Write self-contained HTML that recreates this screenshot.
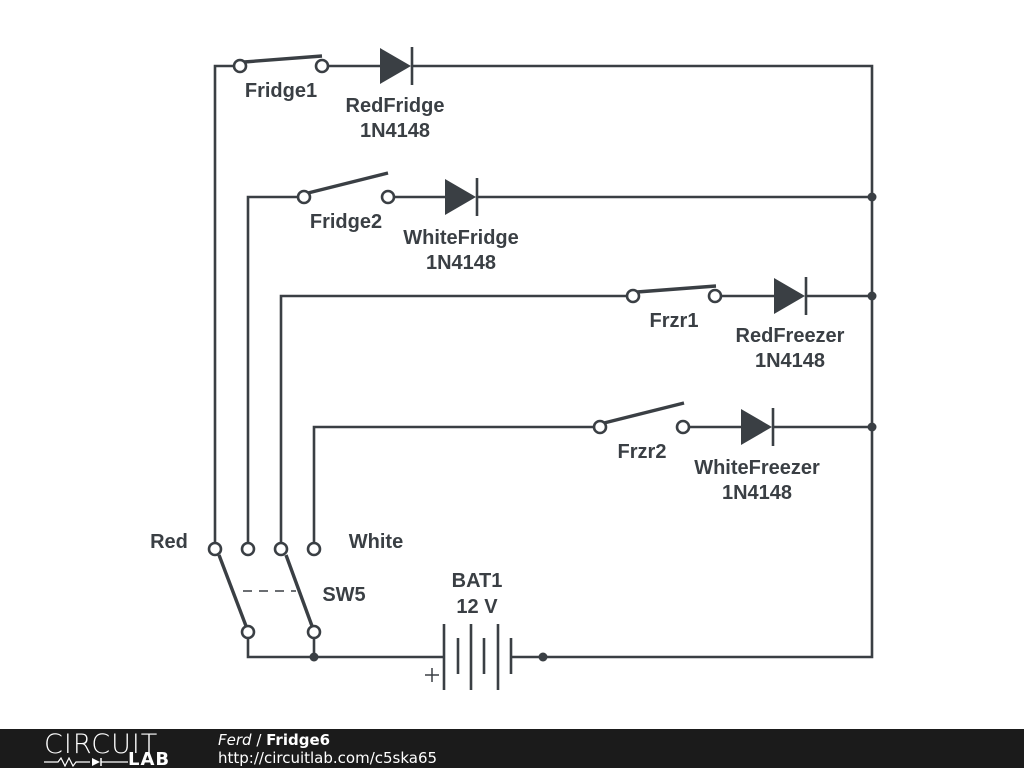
<!DOCTYPE html>
<html><head><meta charset="utf-8"><style>
body{margin:0;width:1024px;height:768px;background:#fff;overflow:hidden;position:relative;font-family:"Liberation Sans",sans-serif}
#foot{position:absolute;left:0;top:729px;width:1024px;height:39px;background:#1b1b1b;color:#fff}
</style></head><body>
<svg width="1024" height="729" style="position:absolute;left:0;top:0">
<g stroke="#3a3f44" stroke-width="2.6" fill="none">
<polyline points="215,543 215,66 234,66"/>
<polyline points="328,66 380,66"/>
<polyline points="412,66 872,66 872,657 511,657"/>
<polyline points="248,543 248,197 298,197"/>
<polyline points="394,197 445,197"/><line x1="477" y1="197" x2="872" y2="197"/>
<polyline points="281,543 281,296 627,296"/>
<polyline points="721,296 774,296"/><line x1="806" y1="296" x2="872" y2="296"/>
<polyline points="314,543 314,427 594,427"/>
<polyline points="689,427 741,427"/><line x1="773" y1="427" x2="872" y2="427"/>
<polyline points="248,638 248,657 444,657"/>
<line x1="314" y1="638" x2="314" y2="657"/>
<line x1="244" y1="62" x2="322" y2="56" stroke-width="3.4"/>
<line x1="308" y1="193" x2="388" y2="173" stroke-width="3.4"/>
<line x1="637" y1="292" x2="716" y2="286" stroke-width="3.4"/>
<line x1="604" y1="423" x2="684" y2="403" stroke-width="3.4"/>
<line x1="219" y1="555" x2="246" y2="626" stroke-width="3.4"/>
<line x1="286" y1="555" x2="312" y2="626" stroke-width="3.4"/>
<line x1="243" y1="591" x2="296" y2="591" stroke-width="1.5" stroke-dasharray="9,7"/>
<g fill="#fff">
<circle cx="240" cy="66" r="6"/><circle cx="322" cy="66" r="6"/>
<circle cx="304" cy="197" r="6"/><circle cx="388" cy="197" r="6"/>
<circle cx="633" cy="296" r="6"/><circle cx="715" cy="296" r="6"/>
<circle cx="600" cy="427" r="6"/><circle cx="683" cy="427" r="6"/>
<circle cx="215" cy="549" r="6"/><circle cx="248" cy="549" r="6"/>
<circle cx="281" cy="549" r="6"/><circle cx="314" cy="549" r="6"/>
<circle cx="248" cy="632" r="6"/><circle cx="314" cy="632" r="6"/>
</g>
<line x1="412" y1="47" x2="412" y2="85"/>
<line x1="477" y1="178" x2="477" y2="216"/>
<line x1="806" y1="277" x2="806" y2="315"/>
<line x1="773" y1="408" x2="773" y2="446"/>
<line x1="444" y1="624" x2="444" y2="690"/><line x1="458" y1="638" x2="458" y2="674"/>
<line x1="471" y1="624" x2="471" y2="690"/><line x1="484" y1="638" x2="484" y2="674"/>
<line x1="498" y1="624" x2="498" y2="690"/><line x1="511" y1="638" x2="511" y2="674"/>
<line x1="425" y1="675" x2="439" y2="675" stroke-width="1.5"/><line x1="432" y1="668" x2="432" y2="682" stroke-width="1.5"/>
</g>
<g fill="#3a3f44">
<polygon points="380,48 411,66 380,84"/>
<polygon points="445,179 476,197 445,215"/>
<polygon points="774,278 805,296 774,314"/>
<polygon points="741,409 772,427 741,445"/>
<circle cx="872" cy="197" r="4.5"/><circle cx="872" cy="296" r="4.5"/><circle cx="872" cy="427" r="4.5"/>
<circle cx="314" cy="657" r="4.5"/><circle cx="543" cy="657" r="4.5"/>
</g>
<g fill="#3a3f44" font-family="Liberation Sans, sans-serif" font-weight="bold" font-size="20" text-anchor="middle">
<text x="281" y="97">Fridge1</text>
<text x="395" y="112">RedFridge</text><text x="395" y="137">1N4148</text>
<text x="346" y="228">Fridge2</text>
<text x="461" y="244">WhiteFridge</text><text x="461" y="269">1N4148</text>
<text x="674" y="327">Frzr1</text>
<text x="790" y="342">RedFreezer</text><text x="790" y="367">1N4148</text>
<text x="642" y="458">Frzr2</text>
<text x="757" y="474">WhiteFreezer</text><text x="757" y="499">1N4148</text>
<text x="169" y="548">Red</text>
<text x="376" y="548">White</text>
<text x="344" y="601">SW5</text>
<text x="477" y="587">BAT1</text><text x="477" y="613">12 V</text>
</g>
</svg>
<div id="foot">
<div style="position:absolute;left:44px;top:0px;font-size:27px;letter-spacing:1px;font-weight:300;color:#fff;font-family:'DejaVu Sans',sans-serif">CIRCUIT</div>
<div style="position:absolute;left:128px;top:20px;font-size:18px;font-weight:bold;letter-spacing:1px;font-family:'DejaVu Sans',sans-serif">LAB</div>
<svg style="position:absolute;left:44px;top:28px" width="84" height="10"><polyline points="0,5 14,5 17,1 21,9 25,1 29,9 32,5 46,5" stroke="#fff" fill="none" stroke-width="1.2"/><polygon points="48,1 56,5 48,9" fill="#fff"/><line x1="57" y1="1" x2="57" y2="9" stroke="#fff" stroke-width="1.5"/><line x1="57" y1="5" x2="84" y2="5" stroke="#fff" stroke-width="1.2"/></svg>
<div style="position:absolute;left:218px;top:2px;font-size:15px;font-family:'DejaVu Sans',sans-serif"><i>Ferd</i> / <b>Fridge6</b></div>
<div style="position:absolute;left:218px;top:20px;font-size:15px;font-family:'DejaVu Sans',sans-serif">http://circuitlab.com/c5ska65</div>
</div>
</body></html>
